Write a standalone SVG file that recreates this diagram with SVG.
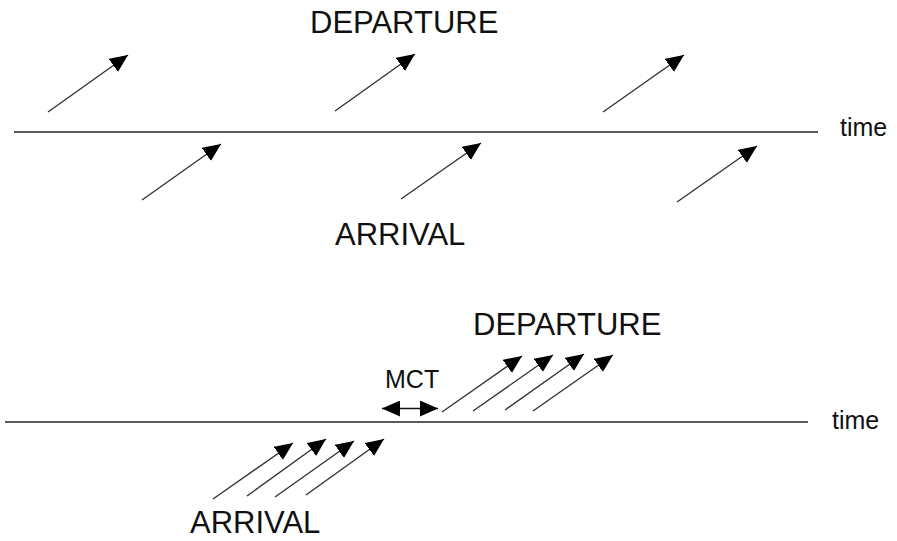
<svg xmlns="http://www.w3.org/2000/svg" width="897" height="541" viewBox="0 0 897 541">
  <style>
    .label { font-family: "Liberation Sans", Arial, sans-serif; fill: #111; }
    .big { font-size: 31px; }
    .small { font-size: 25px; }
    .axis { stroke: #5a5a5a; stroke-width: 2; fill: none; }
    .flight { stroke: #333; stroke-width: 1.4; fill: none; marker-end: url(#head); }
    .span { stroke: #111; stroke-width: 1.6; fill: none; marker-start: url(#headStart); marker-end: url(#head); }
  </style>
  <defs>
    <marker id="head" markerUnits="userSpaceOnUse" markerWidth="19" markerHeight="17" refX="18" refY="8" orient="auto">
      <path d="M0,0 L18,8 L0,16 z" fill="#000"/>
    </marker>
    <marker id="headStart" markerUnits="userSpaceOnUse" markerWidth="19" markerHeight="17" refX="0" refY="8" orient="auto">
      <path d="M18,0 L0,8 L18,16 z" fill="#000"/>
    </marker>
  </defs>
  <rect width="897" height="541" fill="#fff"/>

  <!-- time axes -->
  <g id="axis-top">
    <line class="axis" x1="14" y1="132" x2="818" y2="132"/>
    <text class="label small" x="840" y="136">time</text>
  </g>
  <g id="axis-bottom">
    <line class="axis" x1="5" y1="422" x2="808" y2="422"/>
    <text class="label small" x="832" y="429">time</text>
  </g>

  <!-- labels -->
  <g id="departure-top"><text class="label big" x="310" y="33">DEPARTURE</text></g>
  <g id="arrival-top"><text class="label big" x="335" y="245">ARRIVAL</text></g>
  <g id="departure-bottom"><text class="label big" x="473" y="335">DEPARTURE</text></g>
  <g id="arrival-bottom"><text class="label big" x="190" y="533">ARRIVAL</text></g>
  <g id="mct"><text class="label small" x="385" y="388">MCT</text></g>

  <g id="connectors">
    <!-- spread-out departures -->
    <line class="flight" x1="48" y1="112" x2="128" y2="55"/>
    <line class="flight" x1="335" y1="111" x2="415" y2="54"/>
    <line class="flight" x1="603" y1="112" x2="684" y2="55"/>
    <!-- spread-out arrivals -->
    <line class="flight" x1="142" y1="200" x2="221" y2="144"/>
    <line class="flight" x1="401" y1="199" x2="481" y2="143"/>
    <line class="flight" x1="677" y1="202" x2="757" y2="146"/>
    <!-- banked arrivals -->
    <line class="flight" x1="213" y1="499" x2="293" y2="443"/>
    <line class="flight" x1="247" y1="496" x2="326" y2="439"/>
    <line class="flight" x1="275" y1="497" x2="354" y2="441"/>
    <line class="flight" x1="306" y1="495" x2="384" y2="439"/>
    <!-- banked departures -->
    <line class="flight" x1="442" y1="412" x2="522" y2="356"/>
    <line class="flight" x1="473" y1="411" x2="553" y2="355"/>
    <line class="flight" x1="505" y1="410" x2="584" y2="354"/>
    <line class="flight" x1="533" y1="411" x2="613" y2="355"/>
    <!-- minimum connecting time span -->
    <line class="span" x1="382" y1="408.5" x2="438" y2="408.5"/>
  </g>
</svg>
